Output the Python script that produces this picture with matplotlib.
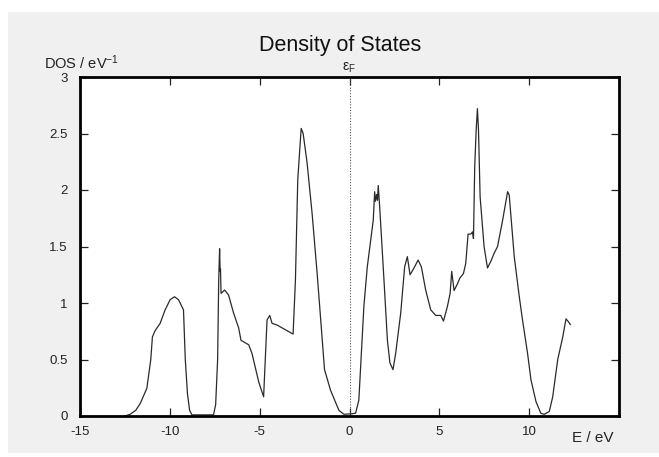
import matplotlib
matplotlib.use("Agg")
import matplotlib.pyplot as plt
from matplotlib.patches import Rectangle

plt.rcParams['font.family'] = ['Liberation Sans', 'DejaVu Sans']
plt.rcParams['axes.unicode_minus'] = False
plt.rcParams['mathtext.fontset'] = 'custom'
plt.rcParams['mathtext.rm'] = 'Liberation Sans'
plt.rcParams['mathtext.it'] = 'Liberation Sans'

energy = [-12.5, -12.21, -11.9, -11.65, -11.28, -11.06, -10.97, -10.82, -10.54, -10.26,
          -9.98, -9.74, -9.52, -9.24, -9.14, -9.02, -8.9, -8.77, -8.2, -7.57,
          -7.45, -7.34, -7.28, -7.23, -7.2, -7.18, -7.15, -6.95, -6.73, -6.45,
          -6.17, -6.04, -5.61, -5.43, -5.05, -4.78, -4.59, -4.44, -4.31, -4.03,
          -3.14, -3.01, -2.88, -2.69, -2.58, -2.36, -2.08, -1.8, -1.39, -1.06,
          -0.59, -0.31, 0.15, 0.34, 0.52, 0.8, 0.99, 1.32, 1.4, 1.45,
          1.51, 1.56, 1.6, 1.68, 1.92, 2.11, 2.25, 2.42, 2.57, 2.85,
          3.07, 3.22, 3.37, 3.59, 3.82, 4.0, 4.24, 4.52, 4.8, 5.08,
          5.23, 5.45, 5.6, 5.69, 5.82, 6.01, 6.14, 6.34, 6.47, 6.6,
          6.75, 6.85, 6.9, 6.97, 7.05, 7.12, 7.18, 7.27, 7.49, 7.68,
          7.87, 8.05, 8.24, 8.52, 8.8, 8.89, 9.17, 9.45, 9.63, 9.91,
          10.1, 10.38, 10.65, 10.84, 11.12, 11.31, 11.59, 11.87, 12.05, 12.18,
          12.29]
dos = [0.0, 0.015, 0.05, 0.11, 0.245, 0.5, 0.7, 0.755, 0.82, 0.94,
       1.03, 1.055, 1.03, 0.94, 0.5, 0.2, 0.05, 0.01, 0.01, 0.01,
       0.1, 0.5, 1.2, 1.48, 1.28, 1.3, 1.085, 1.115, 1.07, 0.91,
       0.78, 0.67, 0.63, 0.555, 0.3, 0.17, 0.85, 0.89, 0.82, 0.805,
       0.725, 1.2, 2.09, 2.545, 2.5, 2.24, 1.79, 1.26, 0.41, 0.23,
       0.05, 0.015, 0.02, 0.025, 0.14, 0.97, 1.32, 1.73, 1.985, 1.9,
       1.96, 1.91, 2.04, 1.85, 1.2, 0.67, 0.47, 0.41, 0.555, 0.91,
       1.32, 1.41, 1.25, 1.31, 1.38, 1.32, 1.115, 0.94, 0.89, 0.89,
       0.84, 0.97, 1.085, 1.28, 1.11, 1.17, 1.22, 1.26, 1.35, 1.61,
       1.61, 1.63, 1.57, 2.21, 2.53, 2.72, 2.53, 1.94, 1.5, 1.31,
       1.37, 1.44, 1.5, 1.73, 1.985, 1.955, 1.41, 1.055, 0.85, 0.555,
       0.32, 0.127, 0.024, 0.015, 0.04, 0.17, 0.5, 0.7, 0.86, 0.835,
       0.81]

xticks = [-15, -10, -5, 0, 5, 10, 15]
xticklabels = ['-15', '-10', '-5', '0', '5', '10', '']
yticks = [0, 0.5, 1, 1.5, 2, 2.5, 3]
yticklabels = ['0', '0.5', '1', '1.5', '2', '2.5', '3']

W, H = 659, 457
fig = plt.figure(figsize=(W / 100, H / 100), dpi=100, facecolor='white')
bg = Rectangle((8 / W, 4 / H), 1 - 8 / W, (453 - 12) / H,
               transform=fig.transFigure, facecolor='#f0f0f0',
               edgecolor='none', zorder=-10)
fig.add_artist(bg)

ax = fig.add_axes([80 / W, (H - 416) / H, (619 - 80) / W, (416 - 77) / H])
ax.set_zorder(5)
ax.set_facecolor('white')
ax.plot(energy, dos, color='#2a2a2a', linewidth=0.9)
ax.axvline(0, color='#555555', linewidth=0.8, linestyle=(0, (1, 1.5)))

ax.set_xlim(-15, 15)
ax.set_ylim(0, 3)
ax.set_xticks(xticks)
ax.set_xticklabels(xticklabels)
ax.set_yticks(yticks)
ax.set_yticklabels(yticklabels)
ax.tick_params(direction='in', length=6, width=0.9, top=True, right=True,
               labelsize=9.5, colors='#222222', labelcolor='#222222')
ax.tick_params(axis='x', pad=7)
ax.tick_params(axis='y', pad=9)
for s in ax.spines.values():
    s.set_linewidth(2)
    s.set_color('black')

fig.text(340 / W, 1 - 46 / H, 'Density of States', ha='center', va='center',
         fontsize=15.5, color='#111111', zorder=10)
fig.text(44 / W, 1 - 63 / H, 'DOS / eV$^{\\mathregular{-1}}$', ha='left', va='center',
         fontsize=10.5, color='#222222', zorder=10)
fig.text(349 / W, 1 - 68 / H, r'$\mathregular{\varepsilon_F}$', ha='center', va='center',
         fontsize=10, color='#222222', zorder=10)
fig.text(593 / W, 1 - 438 / H, 'E / eV', ha='center', va='center',
         fontsize=11, color='#222222', zorder=10)

fig.savefig('out.png', dpi=100, facecolor='white')
